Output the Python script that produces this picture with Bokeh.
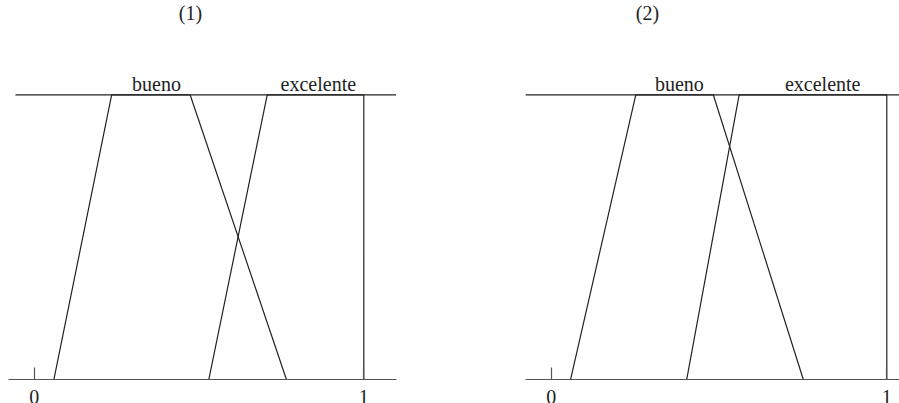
from bokeh.plotting import figure
from bokeh.models import LinearAxis, FixedTicker, Range1d, ColumnDataSource
from bokeh.layouts import row
from bokeh.embed import file_html
from bokeh.resources import INLINE
from bokeh.core.properties import value

FONT = "Liberation Serif"
INK = "#222222"

# ---- data ----
titles = ["(1)", "(2)"]
set_names = ["bueno", "excelente"]
tick_values = [0, 1]
tick_labels = {0: "0", 1: "1"}
membership = [0, 1, 1, 0]

bueno_1 = [0.060, 0.235, 0.473, 0.765]
excelente_1 = [0.530, 0.707, 1.0, 1.0]
bueno_2 = [0.058, 0.252, 0.483, 0.751]
excelente_2 = [0.404, 0.560, 1.0, 1.0]

label_x_1 = [0.371, 0.862]
label_x_2 = [0.382, 0.809]
title_x = [0.474, 0.287]

axis_extent_1 = (-0.077, 1.098)
top_extent_1 = [-0.057, 1.098]
axis_extent_2 = (-0.077, 1.2)
top_extent_2 = [-0.076, 1.2]

Y_START, Y_END = -0.08544, 1.33158


def make_panel(width, xr, title, title_xpos, bueno, excelente, label_x,
               axis_extent, top_extent):
    p = figure(width=width, height=403, x_range=Range1d(*xr),
               y_range=Range1d(Y_START, Y_END),
               x_axis_location=None, y_axis_location=None,
               output_backend="svg", toolbar_location=None,
               min_border=0, min_border_left=0, min_border_right=0,
               min_border_top=0, min_border_bottom=0)
    p.outline_line_color = None
    p.xgrid.visible = False
    p.ygrid.visible = False
    p.background_fill_color = "white"
    p.border_fill_color = "white"

    ax = LinearAxis(ticker=FixedTicker(ticks=tick_values),
                    major_label_overrides=tick_labels,
                    fixed_location=0, bounds=axis_extent)
    ax.axis_line_color = "#555555"
    ax.axis_line_width = 1.2
    ax.major_tick_in = 12
    ax.major_tick_out = 0
    ax.major_tick_line_color = "#555555"
    ax.major_tick_line_width = 1.2
    ax.minor_tick_line_color = None
    ax.major_label_standoff = 11
    ax.major_label_text_font = FONT
    ax.major_label_text_font_size = "20px"
    ax.major_label_text_color = INK
    p.add_layout(ax, "below")

    # top (membership = 1) line
    p.line(top_extent, [1, 1], line_color=INK, line_width=1.2)

    p.line(bueno, membership, line_color=INK, line_width=1.2)
    p.line(excelente, membership, line_color=INK, line_width=1.2)

    src = ColumnDataSource(dict(x=label_x, y=[1, 1], t=set_names))
    p.text(x="x", y="y", text="t", source=src, y_offset=-11,
           text_font=value(FONT), text_font_size="20px",
           text_align="center", text_baseline="alphabetic", text_color=INK)

    p.text(x=[title_xpos], y=[Y_END], text=[title], y_offset=12,
           text_font=value(FONT), text_font_size="20px",
           text_align="center", text_baseline="alphabetic", text_color=INK)
    return p


p1 = make_panel(449, (-0.10225, 1.26001), titles[0], title_x[0],
                bueno_1, excelente_1, label_x_1, axis_extent_1, top_extent_1)
p2 = make_panel(450, (-0.30304, 1.03784), titles[1], title_x[1],
                bueno_2, excelente_2, label_x_2, axis_extent_2, top_extent_2)

layout = row(p1, p2)
open("out.html", "w").write(file_html(layout, INLINE))
